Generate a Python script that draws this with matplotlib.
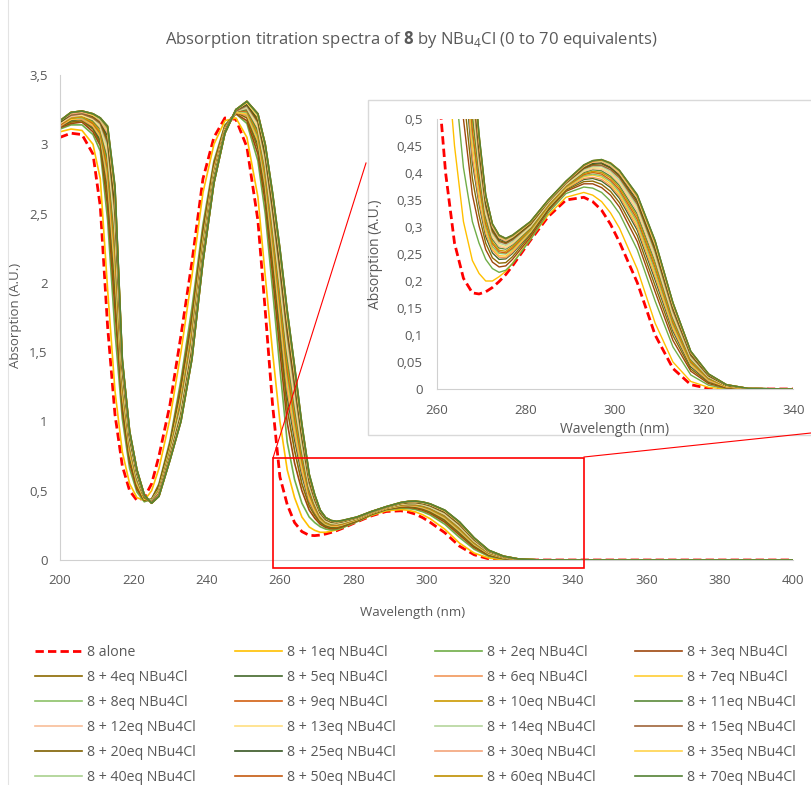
import matplotlib
matplotlib.use('Agg')
import matplotlib.pyplot as plt
from matplotlib.ticker import FuncFormatter, MultipleLocator
from matplotlib.lines import Line2D
from matplotlib.patches import Rectangle

plt.rcParams['font.family'] = ['Open Sans', 'DejaVu Sans']
plt.rcParams['mathtext.fontset'] = 'custom'
plt.rcParams['mathtext.rm'] = 'Open Sans'
plt.rcParams['mathtext.bf'] = 'Open Sans:bold'

gris = '#595959'

# Longitudes de onda (nm)
wl = [200, 203, 206, 209, 211, 213, 215, 217, 219, 221, 223, 225, 227,
      230, 233, 236, 239, 242, 245, 248, 251, 254,
      256, 258, 260, 262, 264, 266, 268, 269.5, 271, 272.5, 274, 275.5, 277,
      281, 285, 289, 293, 295, 297, 299, 301, 305, 309, 313, 317, 321, 325,
      330, 340, 400]

# Absorcion de cada espectro (A.U.)
a_alone = [3.05, 3.08, 3.07, 2.93, 2.55, 1.68, 1.05, 0.68, 0.50, 0.43, 0.45, 0.55, 0.75,
           1.12, 1.62, 2.15, 2.75, 3.05, 3.19, 3.18, 2.98, 2.45,
           1.80, 1.12, 0.60, 0.40, 0.27, 0.205, 0.178, 0.176, 0.180, 0.188, 0.199, 0.212, 0.228,
           0.275, 0.319, 0.350, 0.355, 0.347, 0.331, 0.305, 0.272, 0.197, 0.100, 0.038, 0.008, 0.001, 0,
           0, 0, 0]
a_1eq = [3.09, 3.11, 3.10, 3.00, 2.75, 1.95, 1.22, 0.78, 0.55, 0.45, 0.43, 0.50, 0.66,
         1.02, 1.50, 2.05, 2.65, 3.00, 3.17, 3.19, 3.05, 2.62,
         2.05, 1.50, 1.00, 0.65, 0.45, 0.31, 0.238, 0.214, 0.200, 0.200, 0.208, 0.218, 0.233,
         0.278, 0.322, 0.355, 0.364, 0.359, 0.347, 0.326, 0.298, 0.222, 0.122, 0.050, 0.014, 0.003, 0,
         0, 0, 0]
a_2eq = [3.11, 3.14, 3.14, 3.07, 2.95, 2.45, 1.65, 1.02, 0.66, 0.49, 0.42, 0.44, 0.55,
         0.86, 1.30, 1.82, 2.42, 2.88, 3.14, 3.22, 3.15, 2.88,
         2.50, 1.95, 1.38, 0.85, 0.58, 0.41, 0.31, 0.270, 0.240, 0.223, 0.216, 0.220, 0.232,
         0.276, 0.326, 0.362, 0.374, 0.372, 0.364, 0.348, 0.325, 0.258, 0.163, 0.078, 0.026, 0.007, 0.001,
         0, 0, 0]
a_3eq = [3.12, 3.15, 3.16, 3.09, 2.99, 2.55, 1.81, 1.08, 0.70, 0.51, 0.43, 0.44, 0.54,
         0.84, 1.26, 1.76, 2.38, 2.86, 3.13, 3.22, 3.17, 2.93,
         2.58, 2.06, 1.51, 0.99, 0.70, 0.50, 0.36, 0.302, 0.258, 0.235, 0.226, 0.228, 0.240,
         0.281, 0.330, 0.366, 0.380, 0.380, 0.373, 0.359, 0.337, 0.273, 0.180, 0.090, 0.033, 0.010, 0.002,
         0, 0, 0]
a_4eq = [3.13, 3.16, 3.17, 3.11, 3.01, 2.62, 1.91, 1.13, 0.73, 0.53, 0.43, 0.43, 0.53,
         0.83, 1.23, 1.73, 2.35, 2.84, 3.13, 3.23, 3.19, 2.97,
         2.63, 2.13, 1.60, 1.09, 0.79, 0.55, 0.39, 0.322, 0.270, 0.243, 0.233, 0.234, 0.245,
         0.285, 0.332, 0.368, 0.384, 0.385, 0.379, 0.366, 0.345, 0.284, 0.191, 0.099, 0.037, 0.012, 0.003,
         0, 0, 0]
a_5eq = [3.13, 3.17, 3.18, 3.12, 3.03, 2.69, 2.02, 1.17, 0.75, 0.55, 0.44, 0.43, 0.52,
         0.81, 1.20, 1.69, 2.33, 2.82, 3.12, 3.23, 3.21, 3.00,
         2.68, 2.20, 1.68, 1.18, 0.87, 0.61, 0.42, 0.342, 0.282, 0.252, 0.240, 0.241, 0.251,
         0.288, 0.334, 0.370, 0.388, 0.390, 0.385, 0.373, 0.353, 0.294, 0.202, 0.107, 0.041, 0.014, 0.004,
         0, 0, 0]
a_6eq = [3.13, 3.18, 3.18, 3.13, 3.05, 2.72, 2.07, 1.19, 0.77, 0.55, 0.44, 0.43, 0.51,
         0.80, 1.18, 1.67, 2.31, 2.82, 3.12, 3.23, 3.21, 3.02,
         2.70, 2.23, 1.73, 1.23, 0.91, 0.64, 0.43, 0.349, 0.288, 0.257, 0.244, 0.243, 0.253,
         0.290, 0.336, 0.371, 0.390, 0.392, 0.388, 0.376, 0.357, 0.299, 0.208, 0.111, 0.044, 0.015, 0.004,
         0, 0, 0]
a_7eq = [3.14, 3.18, 3.19, 3.14, 3.06, 2.76, 2.12, 1.21, 0.78, 0.56, 0.44, 0.43, 0.51,
         0.80, 1.17, 1.65, 2.30, 2.81, 3.11, 3.23, 3.22, 3.03,
         2.73, 2.27, 1.77, 1.28, 0.95, 0.67, 0.45, 0.361, 0.294, 0.260, 0.247, 0.246, 0.256,
         0.291, 0.337, 0.372, 0.393, 0.396, 0.392, 0.380, 0.361, 0.304, 0.213, 0.115, 0.046, 0.017, 0.004,
         0, 0, 0]
a_8eq = [3.14, 3.19, 3.19, 3.15, 3.07, 2.79, 2.18, 1.24, 0.80, 0.57, 0.45, 0.43, 0.51,
         0.79, 1.15, 1.64, 2.29, 2.80, 3.11, 3.24, 3.23, 3.05,
         2.75, 2.30, 1.82, 1.33, 0.99, 0.70, 0.47, 0.374, 0.300, 0.264, 0.251, 0.250, 0.259,
         0.293, 0.338, 0.374, 0.395, 0.398, 0.395, 0.384, 0.365, 0.309, 0.219, 0.119, 0.048, 0.018, 0.005,
         0.001, 0, 0]
a_9eq = [3.14, 3.19, 3.20, 3.15, 3.08, 2.82, 2.23, 1.26, 0.81, 0.58, 0.45, 0.42, 0.50,
         0.78, 1.14, 1.62, 2.27, 2.79, 3.11, 3.24, 3.24, 3.07,
         2.78, 2.34, 1.86, 1.37, 1.03, 0.72, 0.48, 0.381, 0.306, 0.269, 0.254, 0.252, 0.261,
         0.295, 0.339, 0.375, 0.397, 0.401, 0.398, 0.387, 0.369, 0.314, 0.225, 0.123, 0.050, 0.019, 0.005,
         0.001, 0, 0]
a_10eq = [3.15, 3.19, 3.20, 3.16, 3.09, 2.86, 2.28, 1.28, 0.82, 0.59, 0.45, 0.42, 0.50,
          0.78, 1.12, 1.60, 2.26, 2.78, 3.10, 3.24, 3.25, 3.08,
          2.80, 2.37, 1.90, 1.42, 1.07, 0.75, 0.50, 0.394, 0.312, 0.272, 0.257, 0.255, 0.264,
          0.296, 0.340, 0.376, 0.399, 0.403, 0.401, 0.391, 0.373, 0.319, 0.230, 0.127, 0.052, 0.020, 0.005,
          0.001, 0, 0]
a_11eq = [3.15, 3.20, 3.21, 3.17, 3.11, 2.89, 2.33, 1.30, 0.84, 0.59, 0.45, 0.42, 0.49,
          0.77, 1.11, 1.58, 2.24, 2.78, 3.10, 3.24, 3.25, 3.10,
          2.83, 2.41, 1.95, 1.47, 1.11, 0.78, 0.51, 0.401, 0.318, 0.277, 0.261, 0.259, 0.267,
          0.298, 0.342, 0.377, 0.401, 0.406, 0.404, 0.394, 0.377, 0.324, 0.236, 0.131, 0.055, 0.021, 0.006,
          0.001, 0, 0]
a_12eq = [3.15, 3.20, 3.21, 3.18, 3.12, 2.93, 2.39, 1.32, 0.85, 0.60, 0.46, 0.42, 0.49,
          0.76, 1.09, 1.56, 2.23, 2.77, 3.10, 3.24, 3.26, 3.12,
          2.85, 2.44, 1.99, 1.52, 1.15, 0.81, 0.53, 0.413, 0.324, 0.281, 0.264, 0.261, 0.269,
          0.300, 0.343, 0.378, 0.403, 0.408, 0.407, 0.398, 0.381, 0.329, 0.241, 0.135, 0.057, 0.022, 0.006,
          0.001, 0, 0]
a_13eq = [3.15, 3.21, 3.21, 3.18, 3.13, 2.95, 2.43, 1.34, 0.86, 0.61, 0.46, 0.42, 0.48,
          0.76, 1.08, 1.55, 2.22, 2.76, 3.10, 3.24, 3.27, 3.13,
          2.87, 2.47, 2.02, 1.55, 1.19, 0.83, 0.54, 0.420, 0.329, 0.285, 0.267, 0.263, 0.271,
          0.301, 0.344, 0.379, 0.404, 0.410, 0.409, 0.400, 0.384, 0.334, 0.246, 0.139, 0.059, 0.023, 0.006,
          0.001, 0, 0]
a_14eq = [3.16, 3.21, 3.22, 3.19, 3.14, 2.98, 2.47, 1.36, 0.87, 0.61, 0.46, 0.42, 0.48,
          0.75, 1.07, 1.53, 2.21, 2.76, 3.09, 3.24, 3.27, 3.15,
          2.89, 2.50, 2.06, 1.59, 1.22, 0.85, 0.55, 0.427, 0.334, 0.288, 0.270, 0.266, 0.273,
          0.303, 0.345, 0.380, 0.406, 0.412, 0.412, 0.403, 0.387, 0.338, 0.250, 0.142, 0.060, 0.023, 0.007,
          0.001, 0, 0]
a_15eq = [3.16, 3.21, 3.22, 3.19, 3.15, 3.01, 2.51, 1.37, 0.88, 0.62, 0.46, 0.42, 0.48,
          0.75, 1.05, 1.52, 2.20, 2.75, 3.09, 3.24, 3.28, 3.16,
          2.91, 2.52, 2.09, 1.63, 1.25, 0.88, 0.56, 0.433, 0.338, 0.291, 0.273, 0.269, 0.276,
          0.304, 0.346, 0.381, 0.408, 0.414, 0.414, 0.406, 0.391, 0.342, 0.255, 0.145, 0.062, 0.024, 0.007,
          0.001, 0, 0]
a_20eq = [3.16, 3.22, 3.23, 3.20, 3.16, 3.03, 2.55, 1.39, 0.89, 0.63, 0.46, 0.41, 0.47,
          0.74, 1.04, 1.50, 2.19, 2.74, 3.09, 3.25, 3.29, 3.17,
          2.93, 2.55, 2.13, 1.67, 1.29, 0.90, 0.58, 0.446, 0.343, 0.294, 0.275, 0.271, 0.278,
          0.305, 0.347, 0.382, 0.409, 0.416, 0.417, 0.409, 0.394, 0.346, 0.259, 0.149, 0.064, 0.025, 0.007,
          0.001, 0, 0]
a_25eq = [3.16, 3.22, 3.23, 3.21, 3.17, 3.06, 2.60, 1.41, 0.90, 0.63, 0.47, 0.41, 0.47,
          0.73, 1.03, 1.49, 2.18, 2.74, 3.09, 3.25, 3.29, 3.19,
          2.95, 2.58, 2.16, 1.71, 1.32, 0.92, 0.59, 0.453, 0.348, 0.298, 0.278, 0.273, 0.280,
          0.307, 0.348, 0.383, 0.411, 0.418, 0.419, 0.411, 0.397, 0.350, 0.264, 0.152, 0.066, 0.026, 0.007,
          0.001, 0, 0]
a_30eq = [3.17, 3.22, 3.23, 3.21, 3.17, 3.08, 2.63, 1.42, 0.91, 0.64, 0.47, 0.41, 0.47,
          0.73, 1.02, 1.48, 2.17, 2.73, 3.08, 3.25, 3.30, 3.20,
          2.97, 2.60, 2.19, 1.73, 1.34, 0.94, 0.60, 0.459, 0.352, 0.300, 0.280, 0.274, 0.281,
          0.308, 0.348, 0.383, 0.412, 0.420, 0.421, 0.413, 0.399, 0.353, 0.267, 0.154, 0.067, 0.027, 0.008,
          0.001, 0, 0]
a_35eq = [3.17, 3.23, 3.24, 3.21, 3.18, 3.10, 2.65, 1.43, 0.92, 0.64, 0.47, 0.41, 0.46,
          0.73, 1.02, 1.47, 2.16, 2.73, 3.08, 3.25, 3.30, 3.20,
          2.98, 2.62, 2.21, 1.75, 1.36, 0.95, 0.60, 0.460, 0.354, 0.303, 0.282, 0.276, 0.282,
          0.308, 0.349, 0.384, 0.413, 0.421, 0.422, 0.415, 0.401, 0.355, 0.269, 0.156, 0.068, 0.027, 0.008,
          0.001, 0, 0]
a_40eq = [3.17, 3.23, 3.24, 3.22, 3.18, 3.11, 2.67, 1.44, 0.92, 0.65, 0.47, 0.41, 0.46,
          0.72, 1.01, 1.46, 2.16, 2.72, 3.08, 3.25, 3.31, 3.21,
          2.99, 2.63, 2.22, 1.77, 1.38, 0.96, 0.61, 0.466, 0.356, 0.304, 0.283, 0.277, 0.283,
          0.309, 0.349, 0.384, 0.414, 0.422, 0.423, 0.416, 0.403, 0.357, 0.272, 0.158, 0.069, 0.027, 0.008,
          0.001, 0, 0]
a_50eq = [3.17, 3.23, 3.24, 3.22, 3.19, 3.12, 2.68, 1.44, 0.93, 0.65, 0.47, 0.41, 0.46,
          0.72, 1.00, 1.45, 2.15, 2.72, 3.08, 3.25, 3.31, 3.22,
          3.00, 2.64, 2.24, 1.79, 1.39, 0.97, 0.61, 0.466, 0.358, 0.305, 0.284, 0.278, 0.284,
          0.309, 0.350, 0.384, 0.414, 0.422, 0.424, 0.418, 0.404, 0.358, 0.273, 0.159, 0.069, 0.027, 0.008,
          0.001, 0, 0]
a_60eq = [3.17, 3.23, 3.24, 3.22, 3.19, 3.13, 2.69, 1.45, 0.93, 0.65, 0.47, 0.41, 0.46,
          0.72, 1.00, 1.45, 2.15, 2.72, 3.08, 3.25, 3.31, 3.22,
          3.00, 2.65, 2.25, 1.80, 1.40, 0.98, 0.62, 0.472, 0.359, 0.306, 0.285, 0.279, 0.285,
          0.310, 0.350, 0.385, 0.415, 0.423, 0.425, 0.419, 0.405, 0.359, 0.274, 0.160, 0.070, 0.028, 0.008,
          0.001, 0, 0]
a_70eq = [3.17, 3.23, 3.24, 3.22, 3.19, 3.13, 2.70, 1.45, 0.93, 0.65, 0.47, 0.41, 0.46,
          0.72, 1.00, 1.45, 2.15, 2.72, 3.08, 3.25, 3.31, 3.22,
          3.00, 2.65, 2.25, 1.80, 1.40, 0.98, 0.62, 0.472, 0.360, 0.306, 0.285, 0.279, 0.285,
          0.310, 0.350, 0.385, 0.415, 0.423, 0.425, 0.418, 0.405, 0.360, 0.275, 0.160, 0.070, 0.028, 0.008,
          0.001, 0, 0]

equivalentes = [1, 2, 3, 4, 5, 6, 7, 8, 9, 10, 11, 12, 13, 14, 15, 20, 25, 30, 35, 40, 50, 60, 70]
espectros = [a_1eq, a_2eq, a_3eq, a_4eq, a_5eq, a_6eq, a_7eq, a_8eq, a_9eq, a_10eq,
             a_11eq, a_12eq, a_13eq, a_14eq, a_15eq, a_20eq, a_25eq, a_30eq, a_35eq,
             a_40eq, a_50eq, a_60eq, a_70eq]
colores = ['#FFC000', '#70AD47', '#9E480E', '#8C6A00', '#43682B', '#F1975A', '#FFCD33',
           '#8CC168', '#D26012', '#CC9A00', '#5A8A39', '#F8BE98', '#FFDF80', '#B5D69C',
           '#A0653A', '#7F6000', '#375623', '#F4A47A', '#FFD34D', '#A9D18E', '#C55A11',
           '#BF8F00', '#548235']

W, H = 811, 785


def caja(x0, y0, x1, y1):
    # rectangulo en pixeles (origen arriba a la izquierda) -> fraccion de figura
    return [x0 / W, 1 - y1 / H, (x1 - x0) / W, (y1 - y0) / H]


def coma(v, pos):
    return ('%g' % round(v, 3)).replace('.', ',')


fig = plt.figure(figsize=(W / 100, H / 100), dpi=100)
fig.add_artist(Line2D([8 / W, 8 / W], [0, 1], color='#E3E3E3', lw=0.8))

# Grafico principal
ax = fig.add_axes(caja(60, 75, 793, 560))
ax.plot(wl, a_alone, color='#FF0000', lw=2.0, ls=(0, (3, 1.5)), label='8 alone')
for eq, a, c in zip(equivalentes, espectros, colores):
    ax.plot(wl, a, color=c, lw=1.2, label='8 + %deq NBu4Cl' % eq)

ax.set_xlim(200, 400)
ax.set_ylim(0, 3.5)
ax.set_xticks(range(200, 401, 20))
ax.yaxis.set_major_locator(MultipleLocator(0.5))
ax.yaxis.set_major_formatter(FuncFormatter(coma))
ax.tick_params(length=0, labelsize=9.5, colors=gris)
ax.tick_params(axis='y', pad=9)
ax.tick_params(axis='x', pad=10)
for s in ['top', 'right']:
    ax.spines[s].set_visible(False)
for s in ['left', 'bottom']:
    ax.spines[s].set_color('#D0D0D0')
ax.set_xlabel('Wavelength (nm)', fontsize=9.5, color=gris)
ax.set_ylabel('Absorption (A.U.)', fontsize=9.5, color=gris)
ax.xaxis.set_label_coords((413 - 60) / 733, (560 - 606) / 485)
ax.yaxis.set_label_coords((22 - 60) / 733, (560 - 315) / 485)

fig.text(411 / W, 1 - 40 / H,
         r'Absorption titration spectra of $\mathbf{8}$ by NBu$_4$Cl (0 to 70 equivalents)',
         ha='center', va='center', fontsize=12, color=gris)

# Zona ampliada
fig.add_artist(Rectangle((273 / W, 1 - 568 / H), (584 - 273) / W, 110 / H,
                         fill=False, ec='#FF0000', lw=1.2, zorder=3))
fig.add_artist(Line2D([273 / W, 366 / W], [1 - 458 / H, 1 - 163 / H],
                      color='#FF0000', lw=0.8, zorder=1.6))
fig.add_artist(Line2D([584 / W, 811 / W], [1 - 457 / H, 1 - 433 / H],
                      color='#FF0000', lw=0.8, zorder=1.6))
fig.add_artist(Rectangle((368 / W, 1 - 435 / H), (813 - 368) / W, 335 / H,
                         fc='white', ec='#D9D9D9', lw=1, zorder=1.5))

axi = fig.add_axes(caja(436.7, 119, 793.3, 389))
axi.set_zorder(2)
axi.plot(wl, a_alone, color='#FF0000', lw=2.0, ls=(0, (3, 1.5)))
for a, c in zip(espectros, colores):
    axi.plot(wl, a, color=c, lw=1.0)
axi.set_xlim(260, 340)
axi.set_ylim(0, 0.5)
axi.set_xticks(range(260, 341, 20))
axi.yaxis.set_major_locator(MultipleLocator(0.05))
axi.yaxis.set_major_formatter(FuncFormatter(coma))
axi.tick_params(length=0, labelsize=9.5, colors=gris)
axi.tick_params(axis='y', pad=10)
axi.tick_params(axis='x', pad=11)
for s in ['top', 'right']:
    axi.spines[s].set_visible(False)
for s in ['left', 'bottom']:
    axi.spines[s].set_color('#D0D0D0')
axi.set_xlabel('Wavelength (nm)', fontsize=10, color=gris)
axi.set_ylabel('Absorption (A.U.)', fontsize=10, color=gris)
axi.xaxis.set_label_coords(0.5, (389 - 422) / 270)
axi.yaxis.set_label_coords((383 - 436.7) / 356.6, 0.5)

# Leyenda: 4 columnas, ordenada por filas
h, l = ax.get_legend_handles_labels()
orden = [r * 4 + c for c in range(4) for r in range(6)]
leg = fig.legend([h[i] for i in orden], [l[i] for i in orden], ncol=4,
                 loc='upper left', bbox_to_anchor=(35 / W, 1 - 645 / H),
                 frameon=False, fontsize=10.2, borderpad=0, borderaxespad=0,
                 handlelength=3.31, handletextpad=0.35, columnspacing=2.78,
                 labelspacing=0.70)
for t in leg.get_texts():
    t.set_color(gris)

fig.savefig('out.png', dpi=100)
